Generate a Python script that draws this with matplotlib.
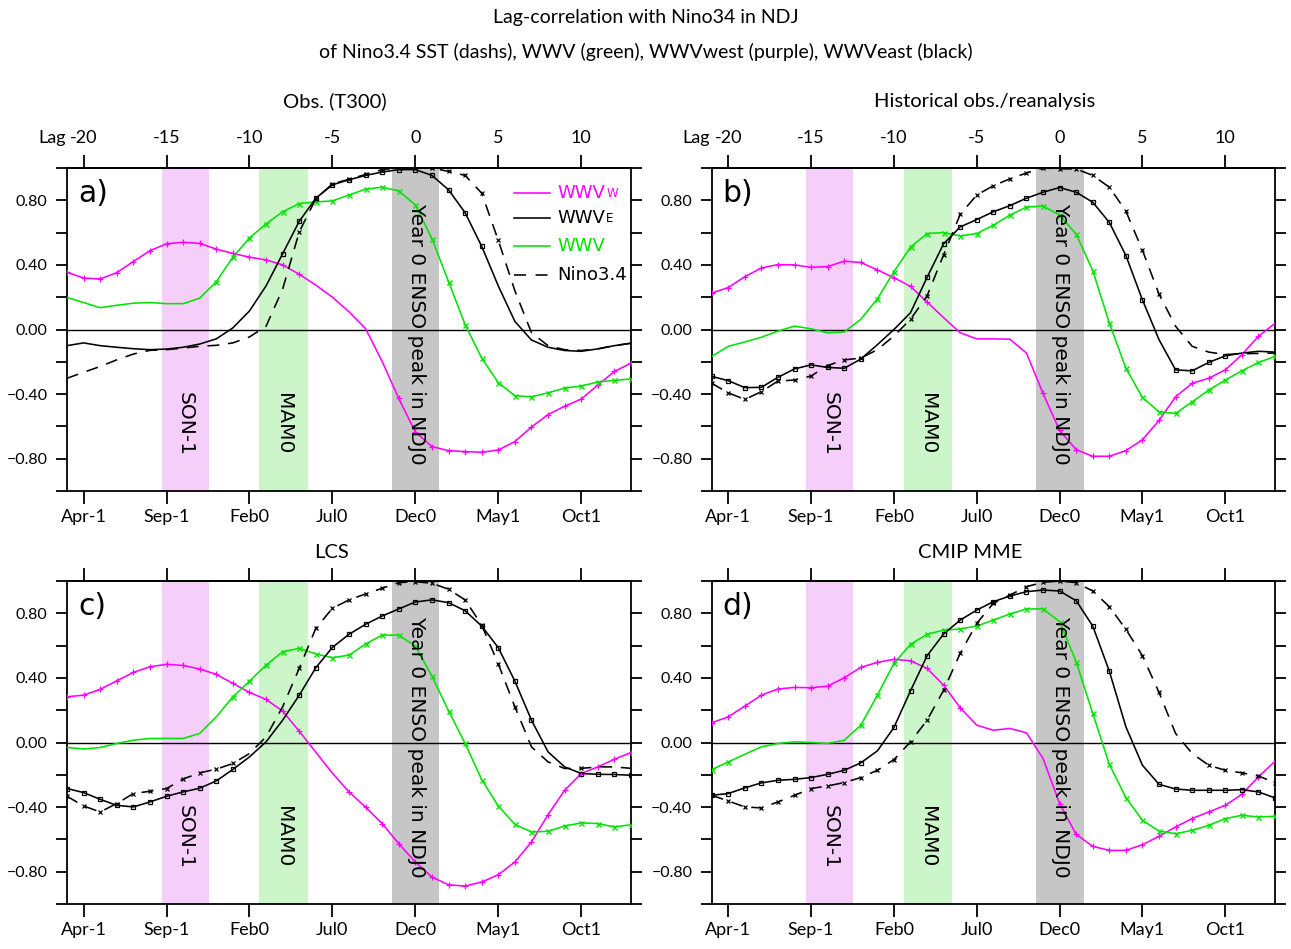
import numpy as np
import matplotlib
matplotlib.use("Agg")
import matplotlib.pyplot as plt

# ---------------------------------------------------------------- data
lags = np.arange(-21, 14)

top_ticks = [-20, -15, -10, -5, 0, 5, 10]
top_labels = ["-20", "-15", "-10", "-5", "0", "5", "10"]
bottom_labels = ["Apr-1", "Sep-1", "Feb0", "Jul0", "Dec0", "May1", "Oct1"]
y_ticks = [-1.0, -0.8, -0.6, -0.4, -0.2, 0.0, 0.2, 0.4, 0.6, 0.8, 1.0]
y_labels = ["", "\u22120.80", "", "\u22120.40", "", "0.00", "", "0.40", "", "0.80", ""]

season_names = ["SON-1", "MAM0", "Year 0 ENSO peak in NDJ0"]
season_lo = [-15.3, -9.4, -1.4]
season_hi = [-12.45, -6.5, 1.45]

# a) Obs. (T300)
wwvw_a = [0.354, 0.319, 0.313, 0.352, 0.421, 0.488, 0.531, 0.540, 0.533, 0.498,
          0.471, 0.448, 0.431, 0.400, 0.342, 0.275, 0.200, 0.110, 0.005, -0.198,
          -0.427, -0.635, -0.725, -0.750, -0.756, -0.760, -0.746, -0.694, -0.604, -0.527,
          -0.475, -0.431, -0.344, -0.260, -0.208]
wwve_a = [-0.100, -0.083, -0.100, -0.110, -0.119, -0.125, -0.121, -0.110, -0.090, -0.058,
          0.010, 0.115, 0.270, 0.469, 0.670, 0.813, 0.896, 0.927, 0.954, 0.975,
          0.990, 0.990, 0.954, 0.865, 0.723, 0.515, 0.270, 0.050, -0.065, -0.110,
          -0.130, -0.135, -0.120, -0.100, -0.085]
wwv_a = [0.198, 0.167, 0.135, 0.150, 0.163, 0.167, 0.160, 0.160, 0.194, 0.296,
         0.448, 0.567, 0.654, 0.729, 0.780, 0.790, 0.796, 0.833, 0.869, 0.881,
         0.858, 0.771, 0.563, 0.296, 0.030, -0.177, -0.329, -0.410, -0.417, -0.392,
         -0.363, -0.350, -0.325, -0.315, -0.306]
nino_a = [-0.302, -0.265, -0.229, -0.188, -0.152, -0.129, -0.125, -0.115, -0.104, -0.098,
          -0.083, -0.046, 0.020, 0.250, 0.604, 0.810, 0.902, 0.930, 0.960, 0.990,
          1.000, 1.000, 1.000, 0.979, 0.954, 0.844, 0.552, 0.240, -0.020, -0.100,
          -0.125, -0.130, -0.120, -0.100, -0.085]

# b) Historical obs./reanalysis
wwvw_b = [0.225, 0.260, 0.327, 0.381, 0.402, 0.400, 0.385, 0.390, 0.423, 0.415,
          0.369, 0.321, 0.267, 0.170, 0.073, -0.020, -0.058, -0.058, -0.060, -0.146,
          -0.396, -0.625, -0.744, -0.785, -0.785, -0.750, -0.683, -0.563, -0.417, -0.333,
          -0.302, -0.250, -0.156, -0.042, 0.038]
wwve_b = [-0.290, -0.317, -0.360, -0.358, -0.296, -0.244, -0.219, -0.235, -0.240, -0.183,
          -0.094, 0.000, 0.104, 0.323, 0.531, 0.635, 0.681, 0.729, 0.767, 0.813,
          0.850, 0.879, 0.850, 0.788, 0.663, 0.458, 0.183, -0.063, -0.250, -0.256,
          -0.204, -0.163, -0.146, -0.135, -0.140]
wwv_b = [-0.167, -0.104, -0.077, -0.048, -0.010, 0.021, 0.004, -0.021, -0.015, 0.063,
         0.190, 0.358, 0.510, 0.594, 0.600, 0.579, 0.594, 0.646, 0.708, 0.758,
         0.765, 0.708, 0.590, 0.365, 0.040, -0.240, -0.421, -0.510, -0.520, -0.448,
         -0.375, -0.313, -0.256, -0.204, -0.167]
nino_b = [-0.333, -0.392, -0.433, -0.385, -0.319, -0.313, -0.288, -0.223, -0.188, -0.177,
          -0.125, -0.040, 0.063, 0.208, 0.463, 0.713, 0.833, 0.890, 0.933, 0.969,
          1.000, 0.995, 0.994, 0.954, 0.881, 0.733, 0.490, 0.219, 0.020, -0.104,
          -0.140, -0.155, -0.150, -0.148, -0.146]

# c) LCS
wwvw_c = [0.283, 0.293, 0.329, 0.382, 0.434, 0.469, 0.484, 0.477, 0.455, 0.422,
          0.366, 0.310, 0.267, 0.194, 0.070, -0.060, -0.190, -0.306, -0.400, -0.502,
          -0.626, -0.740, -0.833, -0.881, -0.889, -0.864, -0.819, -0.740, -0.616, -0.447,
          -0.296, -0.192, -0.151, -0.104, -0.062]
wwve_c = [-0.285, -0.310, -0.352, -0.389, -0.399, -0.368, -0.333, -0.306, -0.283, -0.238,
          -0.167, -0.089, 0.004, 0.138, 0.293, 0.463, 0.589, 0.670, 0.732, 0.783,
          0.827, 0.870, 0.883, 0.866, 0.816, 0.721, 0.587, 0.380, 0.138, -0.058,
          -0.151, -0.192, -0.197, -0.198, -0.203]
wwv_c = [-0.031, -0.040, -0.031, -0.006, 0.014, 0.025, 0.025, 0.025, 0.056, 0.159,
         0.283, 0.380, 0.479, 0.562, 0.583, 0.548, 0.525, 0.541, 0.610, 0.665,
         0.665, 0.597, 0.411, 0.196, -0.006, -0.230, -0.393, -0.507, -0.554, -0.550,
         -0.517, -0.498, -0.502, -0.523, -0.509]
nino_c = [-0.333, -0.393, -0.430, -0.378, -0.316, -0.302, -0.285, -0.226, -0.188, -0.165,
          -0.130, -0.068, 0.035, 0.221, 0.459, 0.707, 0.831, 0.883, 0.920, 0.955,
          0.990, 0.996, 0.986, 0.949, 0.883, 0.727, 0.486, 0.221, -0.027, -0.120,
          -0.161, -0.160, -0.151, -0.151, -0.160]

# d) CMIP MME
wwvw_d = [0.122, 0.159, 0.225, 0.293, 0.331, 0.341, 0.339, 0.349, 0.401, 0.465,
          0.496, 0.515, 0.506, 0.459, 0.355, 0.215, 0.107, 0.076, 0.087, 0.060,
          -0.099, -0.378, -0.569, -0.643, -0.668, -0.668, -0.633, -0.581, -0.523, -0.471,
          -0.430, -0.389, -0.321, -0.213, -0.116]
wwve_d = [-0.327, -0.316, -0.281, -0.250, -0.234, -0.228, -0.217, -0.197, -0.172, -0.126,
          -0.052, 0.093, 0.320, 0.537, 0.672, 0.758, 0.820, 0.872, 0.907, 0.934,
          0.944, 0.938, 0.878, 0.721, 0.442, 0.097, -0.141, -0.259, -0.288, -0.296,
          -0.296, -0.296, -0.292, -0.306, -0.343]
wwv_d = [-0.168, -0.120, -0.073, -0.027, -0.006, 0.004, 0.000, -0.006, 0.014, 0.107,
         0.293, 0.490, 0.608, 0.670, 0.696, 0.703, 0.721, 0.758, 0.796, 0.827,
         0.827, 0.748, 0.500, 0.180, -0.135, -0.341, -0.482, -0.548, -0.565, -0.544,
         -0.513, -0.471, -0.451, -0.461, -0.457]
nino_d = [-0.327, -0.362, -0.399, -0.405, -0.368, -0.327, -0.285, -0.269, -0.248, -0.217,
          -0.172, -0.106, 0.004, 0.138, 0.324, 0.552, 0.738, 0.862, 0.913, 0.965,
          0.992, 1.000, 0.990, 0.938, 0.841, 0.701, 0.537, 0.310, 0.056, -0.068,
          -0.141, -0.172, -0.188, -0.207, -0.250]

# lag ranges where each correlation is marked as significant
sig_wwvw_a = [(-21, -7), (-1, 13)]
sig_wwve_a = [(-8, 4)]
sig_wwv_a = [(-12, 13)]
sig_nino_a = [(-7, 5)]
sig_wwvw_b = [(-21, -8), (-1, 12)]
sig_wwve_b = [(-21, -12), (-8, 5), (7, 10)]
sig_wwv_b = [(-11, 13)]
sig_nino_b = [(-21, -12), (-9, 6)]
sig_wwvw_c = [(-21, -7), (-4, 13)]
sig_wwve_c = [(-21, -11), (-7, 7), (10, 13)]
sig_wwv_c = [(-11, 13)]
sig_nino_c = [(-21, -11), (-7, 6), (10, 10)]
sig_wwvw_d = [(-21, -6), (0, 12)]
sig_wwve_d = [(-21, -12), (-10, 3), (6, 13)]
sig_wwv_d = [(-21, -20), (-12, 13)]
sig_nino_d = [(-21, 6), (9, 13)]

panel_letters = ["a)", "b)", "c)", "d)"]
panel_titles = ["Obs. (T300)", "Historical obs./reanalysis", "LCS", "CMIP MME"]

# ---------------------------------------------------------------- style
MAG = "#FF00FF"
GRN = "#00E400"
BAND_COLORS = ["#F6CEFA", "#CDF5CA", "#C6C6C6"]
TXT_FONT = "Lato"
ANN_FONT = "DejaVu Sans"
plt.rcParams["font.family"] = [TXT_FONT, "DejaVu Sans"]

W, H = 1291, 949
fig = plt.figure(figsize=(W / 100, H / 100), dpi=100)


def frac_box(x0, y0, x1, y1):
    return [x0 / W, 1 - y1 / H, (x1 - x0) / W, (y1 - y0) / H]


boxes = [frac_box(67, 168, 631, 491), frac_box(711.7, 168, 1275, 491),
         frac_box(67, 581, 631, 904), frac_box(711.7, 581, 1275, 904)]
title_pos = [(335, 101), (985, 101), (331, 553), (970, 553)]
show_lag_labels = [True, True, False, False]


def sig_mask(ranges):
    m = np.zeros(lags.size, bool)
    for lo, hi in ranges:
        m |= (lags >= lo) & (lags <= hi)
    return m


series_sets = [
    (wwvw_a, wwve_a, wwv_a, nino_a, sig_wwvw_a, sig_wwve_a, sig_wwv_a, sig_nino_a),
    (wwvw_b, wwve_b, wwv_b, nino_b, sig_wwvw_b, sig_wwve_b, sig_wwv_b, sig_nino_b),
    (wwvw_c, wwve_c, wwv_c, nino_c, sig_wwvw_c, sig_wwve_c, sig_wwv_c, sig_nino_c),
    (wwvw_d, wwve_d, wwv_d, nino_d, sig_wwvw_d, sig_wwve_d, sig_wwv_d, sig_nino_d),
]

LW = 1.15
DASH = (7.5, 5.5)


def draw_series(ax, y, sig, color, marker, ms, mew, dashed=False, mfc=None):
    y = np.asarray(y)
    line, = ax.plot(lags, y, color=color, lw=LW, zorder=4)
    if dashed:
        line.set_dashes(DASH)
    m = sig_mask(sig)
    ax.plot(lags[m], y[m], linestyle="none", marker=marker, ms=ms, mew=mew,
            color=color, mfc=mfc if mfc is not None else color, zorder=5)


for i, ax_box in enumerate(boxes):
    ax = fig.add_axes(ax_box)
    wwvw, wwve, wwv, nino, s_w, s_e, s_v, s_n = series_sets[i]

    ax.set_xlim(-21, 13)
    ax.set_ylim(-1, 1)

    for lo, hi, col in zip(season_lo, season_hi, BAND_COLORS):
        ax.axvspan(lo, hi, color=col, lw=0, zorder=0)
    ax.axhline(0, color="k", lw=1.0, zorder=2)

    draw_series(ax, wwvw, s_w, MAG, "+", 4.5, 0.9)
    draw_series(ax, wwv, s_v, GRN, "x", 3.6, 1.0)
    draw_series(ax, nino, s_n, "k", "x", 3.0, 0.9, dashed=True)
    draw_series(ax, wwve, s_e, "k", "s", 3.2, 0.9, mfc="none")

    # season labels
    ax.text((season_lo[0] + season_hi[0]) / 2, -0.585, season_names[0], rotation=-90,
            ha="center", va="center", fontsize=14.5, family=ANN_FONT, zorder=6)
    ax.text((season_lo[1] + season_hi[1]) / 2, -0.585, season_names[1], rotation=-90,
            ha="center", va="center", fontsize=14.5, family=ANN_FONT, zorder=6)
    ax.text(0.05, -0.03, season_names[2], rotation=-90,
            ha="center", va="center", fontsize=14.5, family=ANN_FONT, zorder=6)

    ax.text(0.0195, 0.92, panel_letters[i], transform=ax.transAxes, ha="left",
            va="center", fontsize=21.5, family=ANN_FONT, zorder=6)

    # axes frame and ticks
    for sp in ax.spines.values():
        sp.set_linewidth(1.3)
    ax.set_xticks(top_ticks)
    ax.set_xticklabels(bottom_labels, fontsize=13)
    ax.set_yticks(y_ticks)
    ax.set_yticklabels(y_labels, fontsize=11.5)
    ax.tick_params(axis="x", which="both", direction="out", length=9.4, width=1.3,
                   top=False, bottom=True, pad=3.5)
    ax.tick_params(axis="y", which="both", direction="out", length=8, width=1.3,
                   left=True, right=True, labelright=False, pad=6)

    sec = ax.secondary_xaxis("top")
    sec.set_xticks(top_ticks)
    sec.spines["top"].set_linewidth(1.3)
    if show_lag_labels[i]:
        sec.set_xticklabels(top_labels, fontsize=13)
        sec.tick_params(direction="out", length=9.4, width=1.3, pad=6.5)
        ax.annotate("Lag", xy=(-20, 1), xycoords=("data", "axes fraction"),
                    xytext=(-13, 15.9), textcoords="offset points",
                    ha="right", va="bottom", fontsize=13)
    else:
        sec.tick_params(direction="out", length=9.4, width=1.3, labeltop=False)

    tx, ty = title_pos[i]
    fig.text(tx / W, 1 - ty / H, panel_titles[i], ha="center", va="center", fontsize=14.5)

    if i == 0:
        rows = [("WWV", "W", MAG, "solid"), ("WWV", "E", "k", "solid"),
                ("WWV", "", GRN, "solid"), ("Nino3.4", "", "k", "dashed")]
        row_y = [0.9217, 0.844, 0.7585, 0.669]
        for (lab, sub, col, ls), yy in zip(rows, row_y):
            ln, = ax.plot([0.7926, 0.856], [yy, yy], color=col, lw=LW,
                          transform=ax.transAxes, zorder=6)
            if ls == "dashed":
                ln.set_dashes((7.5, 6.0))
            t = ax.text(0.870, yy, lab, transform=ax.transAxes, ha="left", va="center",
                        color=col, fontsize=13, family=ANN_FONT, zorder=6)
            if sub:
                ax.annotate(sub, xy=(1, 0), xycoords=t, xytext=(0.5, 1.5),
                            textcoords="offset points", ha="left", va="bottom",
                            color=col, fontsize=8.5, family=ANN_FONT, zorder=6)

fig.text(0.5, 1 - 18 / H, "Lag-correlation with Nino34 in NDJ", ha="center", va="center",
         fontsize=14)
fig.text(0.5, 1 - 52 / H,
         "of Nino3.4 SST (dashs), WWV (green), WWVwest (purple), WWVeast (black)",
         ha="center", va="center", fontsize=14)

fig.savefig("out.png", dpi=100)
